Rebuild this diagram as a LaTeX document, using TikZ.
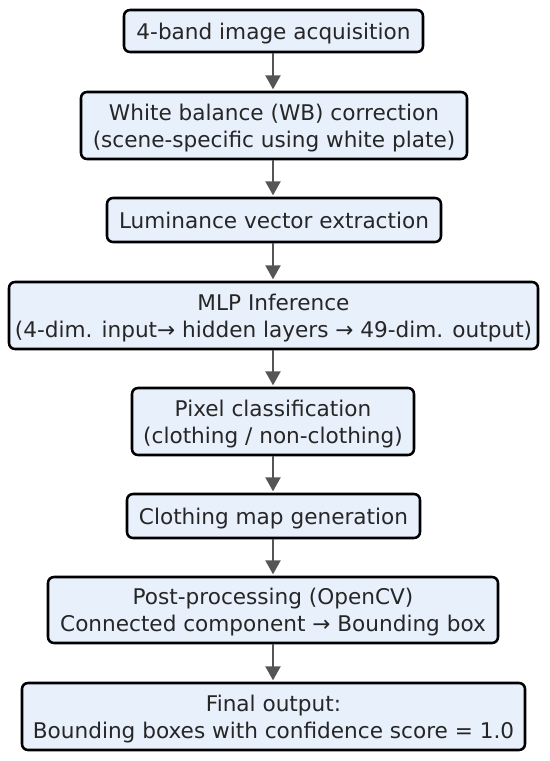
\documentclass[tikz,border=0pt]{standalone}
\usepackage{fontspec}
\setmainfont{DejaVu Sans}
\usetikzlibrary{arrows.meta}
\definecolor{boxfill}{HTML}{E8F0FC}
\definecolor{arrowgray}{HTML}{555555}
\definecolor{txt}{HTML}{262626}
\begin{document}
\begin{tikzpicture}[x=0.75pt,y=-0.75pt,
  box/.style={draw=black, line width=1.9pt, fill=boxfill, rounded corners=4.5pt,
    inner sep=0pt, align=center, text=txt, text depth=0pt,
    font=\fontsize{16.2}{20.25}\selectfont},
  flow/.style={draw=arrowgray, line width=2.2pt,
    -{Triangle[length=10.5pt,width=11pt]}, shorten >=1pt}]
\useasboundingbox (0,0) rectangle (550,761);
\node[box, minimum width=299*0.75pt, minimum height=42*0.75pt] (n1) at (273.5,31) {4-band image acquisition};
\node[box, minimum width=386*0.75pt, minimum height=67*0.75pt] (n2) at (274,125.5) {White balance (WB) correction\\(scene-specific using white plate)};
\node[box, minimum width=334*0.75pt, minimum height=44*0.75pt] (n3) at (274,220) {Luminance vector extraction};
\node[box, minimum width=529*0.75pt, minimum height=67*0.75pt] (n4) at (273.5,315.5) {MLP Inference\\(4-dim. input→ hidden layers → 49-dim. output)};
\node[box, minimum width=282*0.75pt, minimum height=67*0.75pt] (n5) at (273,421.5) {Pixel classification\\(clothing / non-clothing)};
\node[box, minimum width=293*0.75pt, minimum height=44*0.75pt] (n6) at (273.5,516) {Clothing map generation};
\node[box, minimum width=450*0.75pt, minimum height=66*0.75pt] (n7) at (273,610) {Post-processing (OpenCV)\\Connected component → Bounding box};
\node[box, minimum width=503*0.75pt, minimum height=67*0.75pt] (n8) at (273.5,716.5) {Final output:\\Bounding boxes with confidence score = 1.0};
\foreach \a/\b in {n1/n2,n2/n3,n3/n4,n4/n5,n5/n6,n6/n7,n7/n8}{
  \draw[flow] (\a.south -| 273,0) -- (\b.north -| 273,0);
}
\end{tikzpicture}
\end{document}
